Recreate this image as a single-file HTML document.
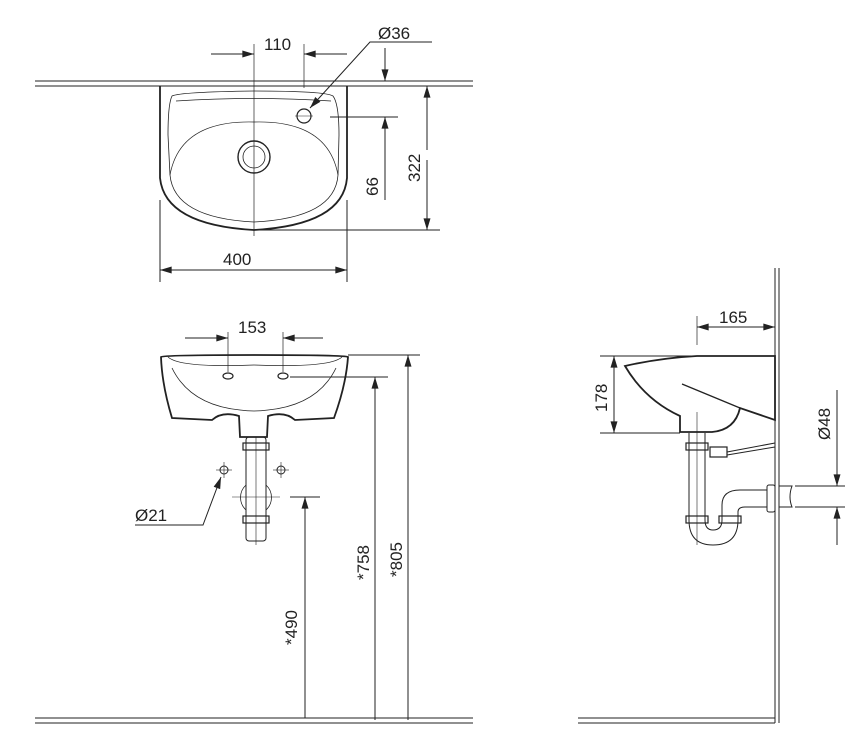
<!DOCTYPE html>
<html><head><style>
html,body{margin:0;padding:0;background:#fff;}
svg{display:block;}
text{font-family:"Liberation Sans",sans-serif;font-size:17px;fill:#222;}
</style></head><body>
<svg width="850" height="730" viewBox="0 0 850 730" xmlns="http://www.w3.org/2000/svg">
<defs>
<marker id="a" viewBox="0 0 10 6" refX="10" refY="3" markerWidth="16" markerHeight="7" markerUnits="userSpaceOnUse" orient="auto"><path d="M0,0 L10,3 L0,6 Z" fill="#222"/></marker>
</defs>
<g stroke="#222" fill="none" stroke-width="1">
<line x1="35" y1="81" x2="473" y2="81"/><line x1="35" y1="86" x2="473" y2="86"/>
<path d="M160,86 V178 Q165,225 254,230 Q343,225 347,178 V86" stroke-width="1.8"/>
<path d="M172,96 Q180,92 254,91 Q325,91 333,96 Q339,104 339,135 L338,175 Q335,218 254,222 Q174,218 170,175 L168,135 Q168,104 172,96 Z" stroke-width="0.8"/>
<path d="M176,101 Q254,96 331,101 M170,175 Q180,120 254,122 Q328,120 338,175" stroke-width="0.7"/>
<circle cx="254" cy="157" r="16" stroke-width="1.4"/><circle cx="254" cy="157" r="11" stroke-width="0.8"/>
<circle cx="304" cy="116" r="7" stroke-width="1.2"/>
<line x1="295" y1="116" x2="313" y2="116" stroke-width="0.6"/>
<line x1="254" y1="44" x2="254" y2="236" stroke-width="0.7"/>
<line x1="304" y1="44" x2="304" y2="88" stroke-width="0.7"/>
<line x1="211" y1="54" x2="254" y2="54" marker-end="url(#a)"/>
<line x1="347" y1="54" x2="304" y2="54" marker-end="url(#a)"/>
<polyline points="432,42 370,42 310,108" marker-end="url(#a)"/>
<line x1="385" y1="48" x2="385" y2="81" marker-end="url(#a)"/>
<line x1="330" y1="117" x2="398" y2="117"/>
<line x1="385" y1="200" x2="385" y2="117" marker-end="url(#a)"/>
<line x1="427" y1="150" x2="427" y2="86" marker-end="url(#a)"/>
<line x1="427" y1="160" x2="427" y2="230" marker-end="url(#a)"/>
<line x1="254" y1="230" x2="440" y2="230"/>
<line x1="160" y1="200" x2="160" y2="282"/><line x1="347" y1="200" x2="347" y2="282"/>
<line x1="250" y1="270" x2="160" y2="270" marker-end="url(#a)"/>
<line x1="250" y1="270" x2="347" y2="270" marker-end="url(#a)"/>

<path d="M161,357 Q163,355 254,355 Q345,355 348,357 Q346,385 334,418 L295,420 Q285,411 268,416 L267,437 H240 L239,416 Q222,411 212,420 L172,418 Q162,385 161,357 Z" stroke-width="1.8"/>
<path d="M168,357 Q180,368 254,365 Q330,368 342,357" stroke-width="0.7"/>
<path d="M172,368 Q190,405 240,410 Q254,412 268,410 Q318,405 336,368" stroke-width="0.8"/>
<ellipse cx="228" cy="376" rx="5" ry="3" stroke-width="1.2"/>
<ellipse cx="283" cy="376" rx="5" ry="3" stroke-width="1.2"/>
<line x1="228" y1="332" x2="228" y2="372" stroke-width="0.7"/>
<line x1="283" y1="332" x2="283" y2="372" stroke-width="0.7"/>
<line x1="185" y1="338" x2="228" y2="338" marker-end="url(#a)"/>
<line x1="323" y1="338" x2="283" y2="338" marker-end="url(#a)"/>
<line x1="348" y1="355" x2="420" y2="355"/>
<line x1="290" y1="377" x2="388" y2="377"/>
<line x1="408" y1="720" x2="408" y2="355" marker-end="url(#a)"/>
<line x1="375" y1="720" x2="375" y2="377" marker-end="url(#a)"/>
<line x1="290" y1="497" x2="320" y2="497"/>
<line x1="305" y1="718" x2="305" y2="497" marker-end="url(#a)"/>
<rect x="246" y="437" width="20" height="104" rx="3" stroke-width="1"/>
<rect x="243" y="443" width="26" height="7" stroke-width="1.2"/>
<rect x="243" y="516" width="26" height="7" stroke-width="1.2"/>
<path d="M246,485 A17,17 0 0 0 246,510 M266,485 A17,17 0 0 1 266,510" stroke-width="0.8"/>
<line x1="232" y1="497" x2="280" y2="497" stroke-width="0.6"/>
<line x1="256" y1="437" x2="256" y2="545" stroke-width="0.6"/>
<circle cx="224" cy="470" r="4"/><line x1="216" y1="470" x2="232" y2="470" stroke-width="0.6"/><line x1="224" y1="462" x2="224" y2="478" stroke-width="0.6"/>
<circle cx="281" cy="470" r="4"/><line x1="273" y1="470" x2="289" y2="470" stroke-width="0.6"/><line x1="281" y1="462" x2="281" y2="478" stroke-width="0.6"/>
<polyline points="135,525 203,525 221,477" marker-end="url(#a)"/>
<line x1="35" y1="718" x2="473" y2="718"/><line x1="35" y1="723" x2="473" y2="723"/>

<line x1="775" y1="268" x2="775" y2="723"/><line x1="779" y1="268" x2="779" y2="723"/>
<line x1="578" y1="718" x2="775" y2="718"/><line x1="578" y1="723" x2="775" y2="723"/>
<path d="M625,366 Q660,358 697,356 H775 V420 L740,408 Q735,430 712,432 H680 V416 Q645,400 625,366 Z" stroke-width="1.8"/>
<line x1="682" y1="384" x2="740" y2="408" stroke-width="1.3"/>
<line x1="697" y1="316" x2="697" y2="345" stroke-width="0.7"/>
<line x1="735" y1="327" x2="697" y2="327" marker-end="url(#a)"/>
<line x1="735" y1="327" x2="775" y2="327" marker-end="url(#a)"/>
<line x1="600" y1="356" x2="697" y2="356"/>
<line x1="600" y1="433" x2="680" y2="433"/>
<line x1="614" y1="395" x2="614" y2="356" marker-end="url(#a)"/>
<line x1="614" y1="395" x2="614" y2="433" marker-end="url(#a)"/>
<line x1="697" y1="412" x2="697" y2="545" stroke-width="0.6"/>
<path d="M689,433 V520 M705,433 V520 M689,520 Q689,545 713,545 Q738,545 738,520 M705,520 Q705,530 713,530 Q722,530 722,520 V505 Q722,490 740,490 H767 M738,520 V512 Q738,507 745,507 H767" stroke-width="1"/>
<rect x="686" y="443" width="22" height="7" stroke-width="1.2"/>
<rect x="686" y="516" width="22" height="7" stroke-width="1.2"/>
<rect x="719" y="516" width="22" height="7" stroke-width="1.2"/>
<rect x="710" y="447" width="17" height="10" stroke-width="1.2"/>
<line x1="727" y1="452" x2="775" y2="443"/><line x1="727" y1="455" x2="775" y2="447"/>
<rect x="767" y="485" width="8" height="27" rx="2" stroke-width="1"/>
<path d="M779,486 H792 Q788,497 792,507 H779" stroke-width="1"/>
<line x1="795" y1="486" x2="845" y2="486"/><line x1="795" y1="507" x2="845" y2="507"/>
<line x1="837" y1="390" x2="837" y2="486" marker-end="url(#a)"/>
<line x1="837" y1="545" x2="837" y2="507" marker-end="url(#a)"/>
</g>
<g>
<text x="264" y="50">110</text>
<text x="378" y="39">Ø36</text>
<text x="223" y="265">400</text>
<text transform="translate(378,196) rotate(-90)">66</text>
<text transform="translate(420,182) rotate(-90)">322</text>
<text x="238" y="333">153</text>
<text x="135" y="521">Ø21</text>
<text transform="translate(297,645) rotate(-90)">*490</text>
<text transform="translate(369,580) rotate(-90)">*758</text>
<text transform="translate(402,577) rotate(-90)">*805</text>
<text x="719" y="323">165</text>
<text transform="translate(607,412) rotate(-90)">178</text>
<text transform="translate(830,440) rotate(-90)">Ø48</text>
</g>
</svg>
</body></html>
